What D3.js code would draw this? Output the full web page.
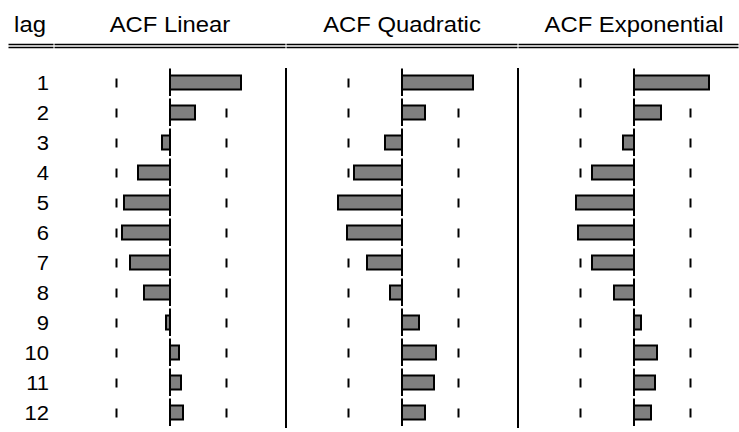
<!DOCTYPE html>
<html>
<head>
<meta charset="utf-8">
<script src="https://cdn.jsdelivr.net/npm/d3@7"></script>
<style>
  html, body { margin: 0; padding: 0; background: #fff; }
  svg { display: block; }
  text { font-family: "Liberation Sans", Arial, Helvetica, sans-serif; fill: #000; }
</style>
</head>
<body>
<svg id="chart" width="739" height="432"></svg>
<script>
// ---- data ----
const lags = [1, 2, 3, 4, 5, 6, 7, 8, 9, 10, 11, 12];
const seriesNames = ["ACF Linear", "ACF Quadratic", "ACF Exponential"];
const acfLinear      = [0.71, 0.25, -0.08, -0.32, -0.46, -0.48, -0.40, -0.26, -0.04, 0.09, 0.11, 0.13];
const acfQuadratic   = [0.71, 0.23, -0.17, -0.48, -0.64, -0.55, -0.35, -0.12, 0.17, 0.34, 0.32, 0.23];
const acfExponential = [0.75, 0.27, -0.11, -0.42, -0.58, -0.56, -0.42, -0.20, 0.07, 0.23, 0.21, 0.17];
const confBounds = [-0.535, 0.565];
const lagHeader = "lag";

const seriesValues = [acfLinear, acfQuadratic, acfExponential];

// ---- layout ----
const W = 739, H = 432;
const svg = d3.select("#chart");

const rowScale = d3.scaleBand().domain(lags).range([67.5, 427.5]).padding(0);
const colScale = d3.scaleBand().domain(seriesNames).range([54, 750]).padding(0);
const halfSpan = 100;          // px for |acf| = 1
const barH = 14;
const headerY = 32, headerSize = 22.5, headerSX = 1.06;
const numSize = 19.5, numSX = 1.13;

function stretchedText(sel, x, y, sx) {
  return sel.attr("transform", `translate(${x},${y}) scale(${sx},1)`);
}

// header
stretchedText(svg.append("text"), 30, headerY, headerSX)
  .attr("text-anchor", "middle")
  .attr("font-size", headerSize)
  .text(lagHeader);

seriesNames.forEach(name => {
  const cx = colScale(name) + colScale.bandwidth() / 2;
  stretchedText(svg.append("text"), cx, headerY, headerSX)
    .attr("text-anchor", "middle")
    .attr("font-size", headerSize)
    .text(name);
});

// double rule under header, segmented by column
const segs = [[8, 54]].concat(seriesNames.map(n => [colScale(n), Math.min(colScale(n) + colScale.bandwidth(), W)]));
segs.forEach(([a, b]) => {
  [44.5, 47.5].forEach(y => {
    svg.append("line")
      .attr("x1", a + 0.5).attr("x2", b - 0.5)
      .attr("y1", y).attr("y2", y)
      .attr("stroke", "#000").attr("stroke-width", 1.6);
  });
});

// lag labels
svg.append("g").selectAll("text")
  .data(lags).join("text")
  .attr("transform", d => `translate(49,${rowScale(d) + rowScale.bandwidth() / 2 + 7}) scale(${numSX},1)`)
  .attr("text-anchor", "end")
  .attr("font-size", numSize)
  .text(d => d);

// vertical separators between panels
seriesNames.slice(1).forEach(n => {
  svg.append("line")
    .attr("x1", colScale(n)).attr("x2", colScale(n))
    .attr("y1", 68).attr("y2", 428)
    .attr("stroke", "#000").attr("stroke-width", 2);
});

// panels
seriesNames.forEach((name, si) => {
  const cx = colScale(name) + colScale.bandwidth() / 2;
  const x = d3.scaleLinear().domain([-1, 1]).range([cx - halfSpan, cx + halfSpan]);
  const g = svg.append("g");
  const rows = lags.map((lag, i) => ({ lag, v: seriesValues[si][i] }));

  // confidence tick marks
  confBounds.forEach(cb => {
    g.append("g").selectAll("line")
      .data(rows).join("line")
      .attr("x1", x(cb)).attr("x2", x(cb))
      .attr("y1", d => rowScale(d.lag) + rowScale.bandwidth() / 2 - 4)
      .attr("y2", d => rowScale(d.lag) + rowScale.bandwidth() / 2 + 5)
      .attr("stroke", "#000").attr("stroke-width", 2);
  });

  // bars
  g.append("g").selectAll("rect")
    .data(rows).join("rect")
    .attr("x", d => Math.min(x(0), x(d.v)))
    .attr("width", d => Math.abs(x(d.v) - x(0)))
    .attr("y", d => rowScale(d.lag) + rowScale.bandwidth() / 2 - barH / 2)
    .attr("height", barH)
    .attr("fill", "#808080")
    .attr("stroke", "#000")
    .attr("stroke-width", 2);

  // zero line segments (one per row)
  g.append("g").selectAll("line.zero")
    .data(rows).join("line")
    .attr("class", "zero")
    .attr("x1", x(0)).attr("x2", x(0))
    .attr("y1", d => rowScale(d.lag) + 1)
    .attr("y2", d => rowScale(d.lag) + rowScale.bandwidth() - 1.5)
    .attr("stroke", "#000").attr("stroke-width", 2);
});
</script>
</body>
</html>
